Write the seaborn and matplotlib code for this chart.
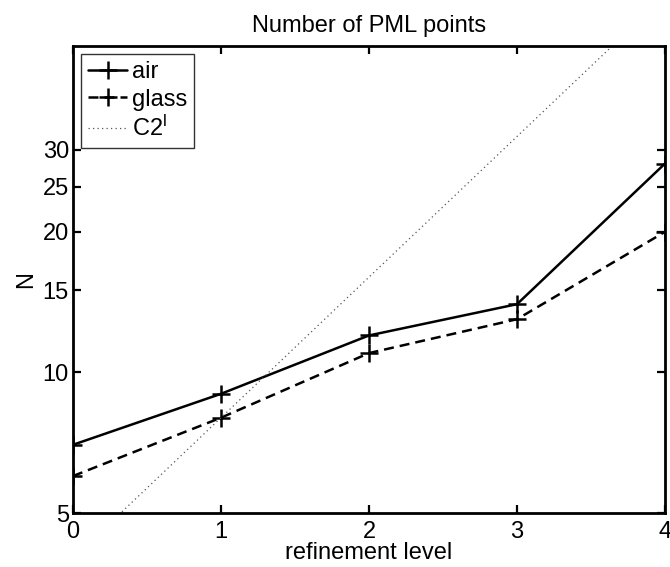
import numpy as np
import pandas as pd
import matplotlib
matplotlib.use("Agg")
import matplotlib.pyplot as plt
import seaborn as sns
from matplotlib.ticker import FixedLocator, NullLocator, FixedFormatter

# Refinement levels and number of PML points per material
levels = [0, 1, 2, 3, 4]
air = [7, 9, 12, 14, 28]
glass = [6, 8, 11, 13, 20]
# reference growth C*2^l with C = 4
ref_c2l = [4, 8, 16, 32, 64]

y_ticks = [5, 10, 15, 20, 25, 30]
x_ticks = [0, 1, 2, 3, 4]

sns.set_style("white")
plt.rcParams["font.family"] = ["Liberation Sans", "DejaVu Sans"]
plt.rcParams["mathtext.default"] = "regular"
plt.rcParams["text.color"] = "black"
plt.rcParams["axes.labelcolor"] = "black"

FS = 17
LW = 1.8

df = pd.DataFrame({
    "level": levels * 3,
    "N": air + glass + ref_c2l,
    "series": ["air"] * 5 + ["glass"] * 5 + ["C2$^l$"] * 5,
})

fig = plt.figure(figsize=(6.7, 5.67), dpi=100)
ax = fig.add_axes([0.109, 0.0952, 0.8835, 0.8237])

sns.lineplot(data=df[df.series == "air"], x="level", y="N", ax=ax,
             color="black", linewidth=LW, marker="+", markersize=12.5,
             markeredgewidth=LW, markeredgecolor="black", label="air")
sns.lineplot(data=df[df.series == "glass"], x="level", y="N", ax=ax,
             color="black", linewidth=LW, marker="+", markersize=12.5,
             markeredgewidth=LW, markeredgecolor="black", label="glass")
ax.lines[-1].set_linestyle((0, (4, 2.4)))
sns.lineplot(data=df[df.series == "C2$^l$"], x="level", y="N", ax=ax,
             color="#555555", linewidth=0.9, label="C2$^l$")
ax.lines[-1].set_linestyle((0, (1, 2.6)))

ax.set_yscale("log")
ax.set_xlim(0, 4)
ax.set_ylim(5, 50)
ax.xaxis.set_major_locator(FixedLocator(x_ticks))
ax.yaxis.set_major_locator(FixedLocator(y_ticks))
ax.yaxis.set_major_formatter(FixedFormatter([str(t) for t in y_ticks]))
ax.yaxis.set_minor_locator(NullLocator())
ax.xaxis.set_minor_locator(NullLocator())

for s in ax.spines.values():
    s.set_linewidth(2.0)
    s.set_color("black")
ax.tick_params(direction="in", length=6, width=1.6, labelsize=FS,
               top=True, right=True, bottom=True, left=True,
               colors="black", labelcolor="black")
ax.tick_params(axis="x", pad=6)
ax.tick_params(axis="y", pad=3)

ax.set_xlabel("refinement level", fontsize=FS, labelpad=-1, color="black")
ax.set_ylabel("N", fontsize=FS, labelpad=4, color="black")
ax.set_title("Number of PML points", fontsize=FS, pad=10, color="black")

leg = ax.legend(loc="upper left", fontsize=FS, frameon=True, fancybox=False,
                handlelength=1.65, handletextpad=0.2, borderpad=0.3,
                labelspacing=0.22, borderaxespad=0.35, labelcolor="black")
leg.get_frame().set_edgecolor("black")
leg.get_frame().set_linewidth(1.0)

fig.savefig("out.png", dpi=100)
